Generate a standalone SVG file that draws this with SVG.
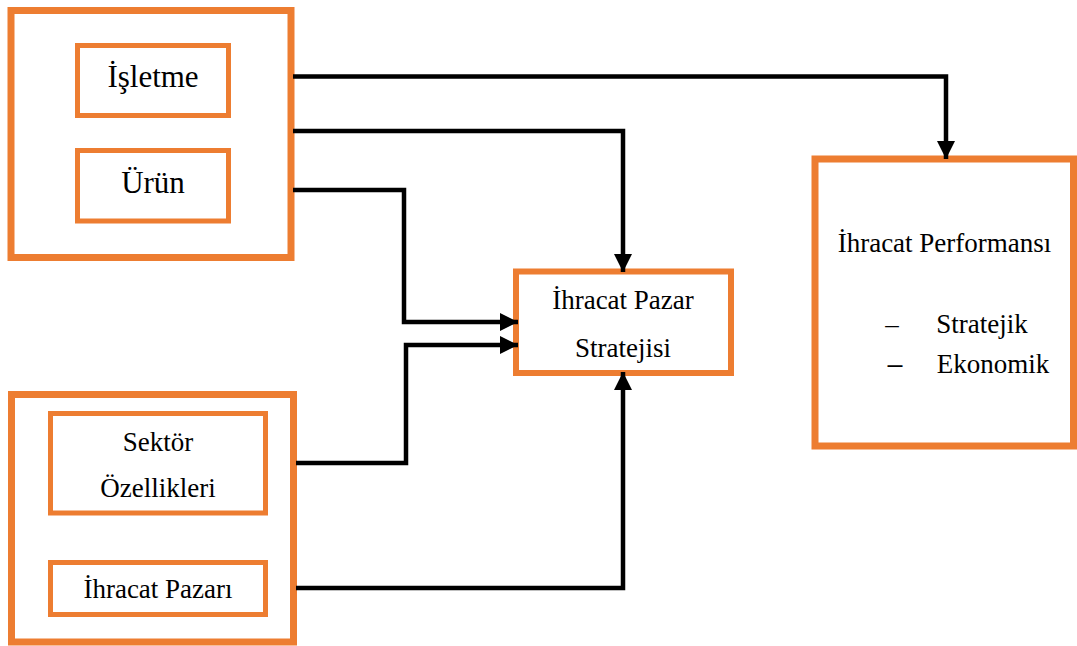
<svg xmlns="http://www.w3.org/2000/svg" width="1077" height="646" viewBox="0 0 1077 646">
  <style>
    .outer { fill: #fff; stroke: #ED7D31; stroke-width: 7; }
    .inner { fill: #fff; stroke: #ED7D31; stroke-width: 5; }
    .mid { fill: #fff; stroke: #ED7D31; stroke-width: 6; }
    .lbl { font-family: 'Liberation Serif', 'DejaVu Serif', serif; fill: #000; text-anchor: middle; }
    .big { font-size: 31px; }
    .std { font-size: 27px; }
    .conn { fill: none; stroke: #000; stroke-width: 4.5; stroke-linejoin: miter; }
  </style>
  <defs>
    <marker id="arrow" markerUnits="userSpaceOnUse" markerWidth="18" markerHeight="18" refX="18" refY="9" orient="auto">
      <path d="M0,0 L18,9 L0,18 Z" fill="#000"/>
    </marker>
  </defs>

  <rect width="1077" height="646" fill="#fff"/>

  <!-- Firm / product group -->
  <g id="firma-grubu">
    <rect class="outer" x="11" y="10.5" width="280" height="247"/>
    <g id="isletme">
      <rect class="inner" x="77.5" y="45.5" width="151" height="70"/>
      <text class="lbl big" x="153" y="87">İşletme</text>
    </g>
    <g id="urun">
      <rect class="inner" x="77.5" y="150.5" width="151" height="70.5"/>
      <text class="lbl big" x="153" y="193">Ürün</text>
    </g>
  </g>

  <!-- Sector / market group -->
  <g id="sektor-grubu">
    <rect class="outer" x="11.5" y="394.5" width="282" height="247.5"/>
    <g id="sektor">
      <rect class="inner" x="50.5" y="413.5" width="215" height="99.5"/>
      <text class="lbl std" x="158" y="451">Sektör</text>
      <text class="lbl std" x="158" y="497">Özellikleri</text>
    </g>
    <g id="ihracat-pazari">
      <rect class="inner" x="50.5" y="562.5" width="215" height="52"/>
      <text class="lbl std" x="158" y="598">İhracat Pazarı</text>
    </g>
  </g>

  <!-- Export market strategy -->
  <g id="pazar-stratejisi">
    <rect class="mid" x="516" y="271.5" width="215" height="101.5"/>
    <text class="lbl std" x="623" y="309">İhracat Pazar</text>
    <text class="lbl std" x="623" y="357">Stratejisi</text>
  </g>

  <!-- Export performance -->
  <g id="ihracat-performansi">
    <rect class="outer" x="815" y="159" width="258.5" height="287"/>
    <text class="lbl std" x="944.5" y="252">İhracat Performansı</text>
    <text class="lbl std" x="892" y="333">–</text>
    <text class="lbl std" x="982" y="333">Stratejik</text>
    <text x="895" y="373" style="font-family: 'Liberation Sans', Arial, sans-serif; font-size: 27px; text-anchor: middle;">–</text>
    <text class="lbl std" x="993" y="373">Ekonomik</text>
  </g>

  <!-- Connectors -->
  <g id="baglantilar">
    <path class="conn" d="M293,76.5 H946 V159" marker-end="url(#arrow)"/>
    <path class="conn" d="M293,131 H623 V272" marker-end="url(#arrow)"/>
    <path class="conn" d="M293,190 H404 V322 H518" marker-end="url(#arrow)"/>
    <path class="conn" d="M296,463 H406 V345 H518" marker-end="url(#arrow)"/>
    <path class="conn" d="M296,588 H623 V372" marker-end="url(#arrow)"/>
  </g>
</svg>
